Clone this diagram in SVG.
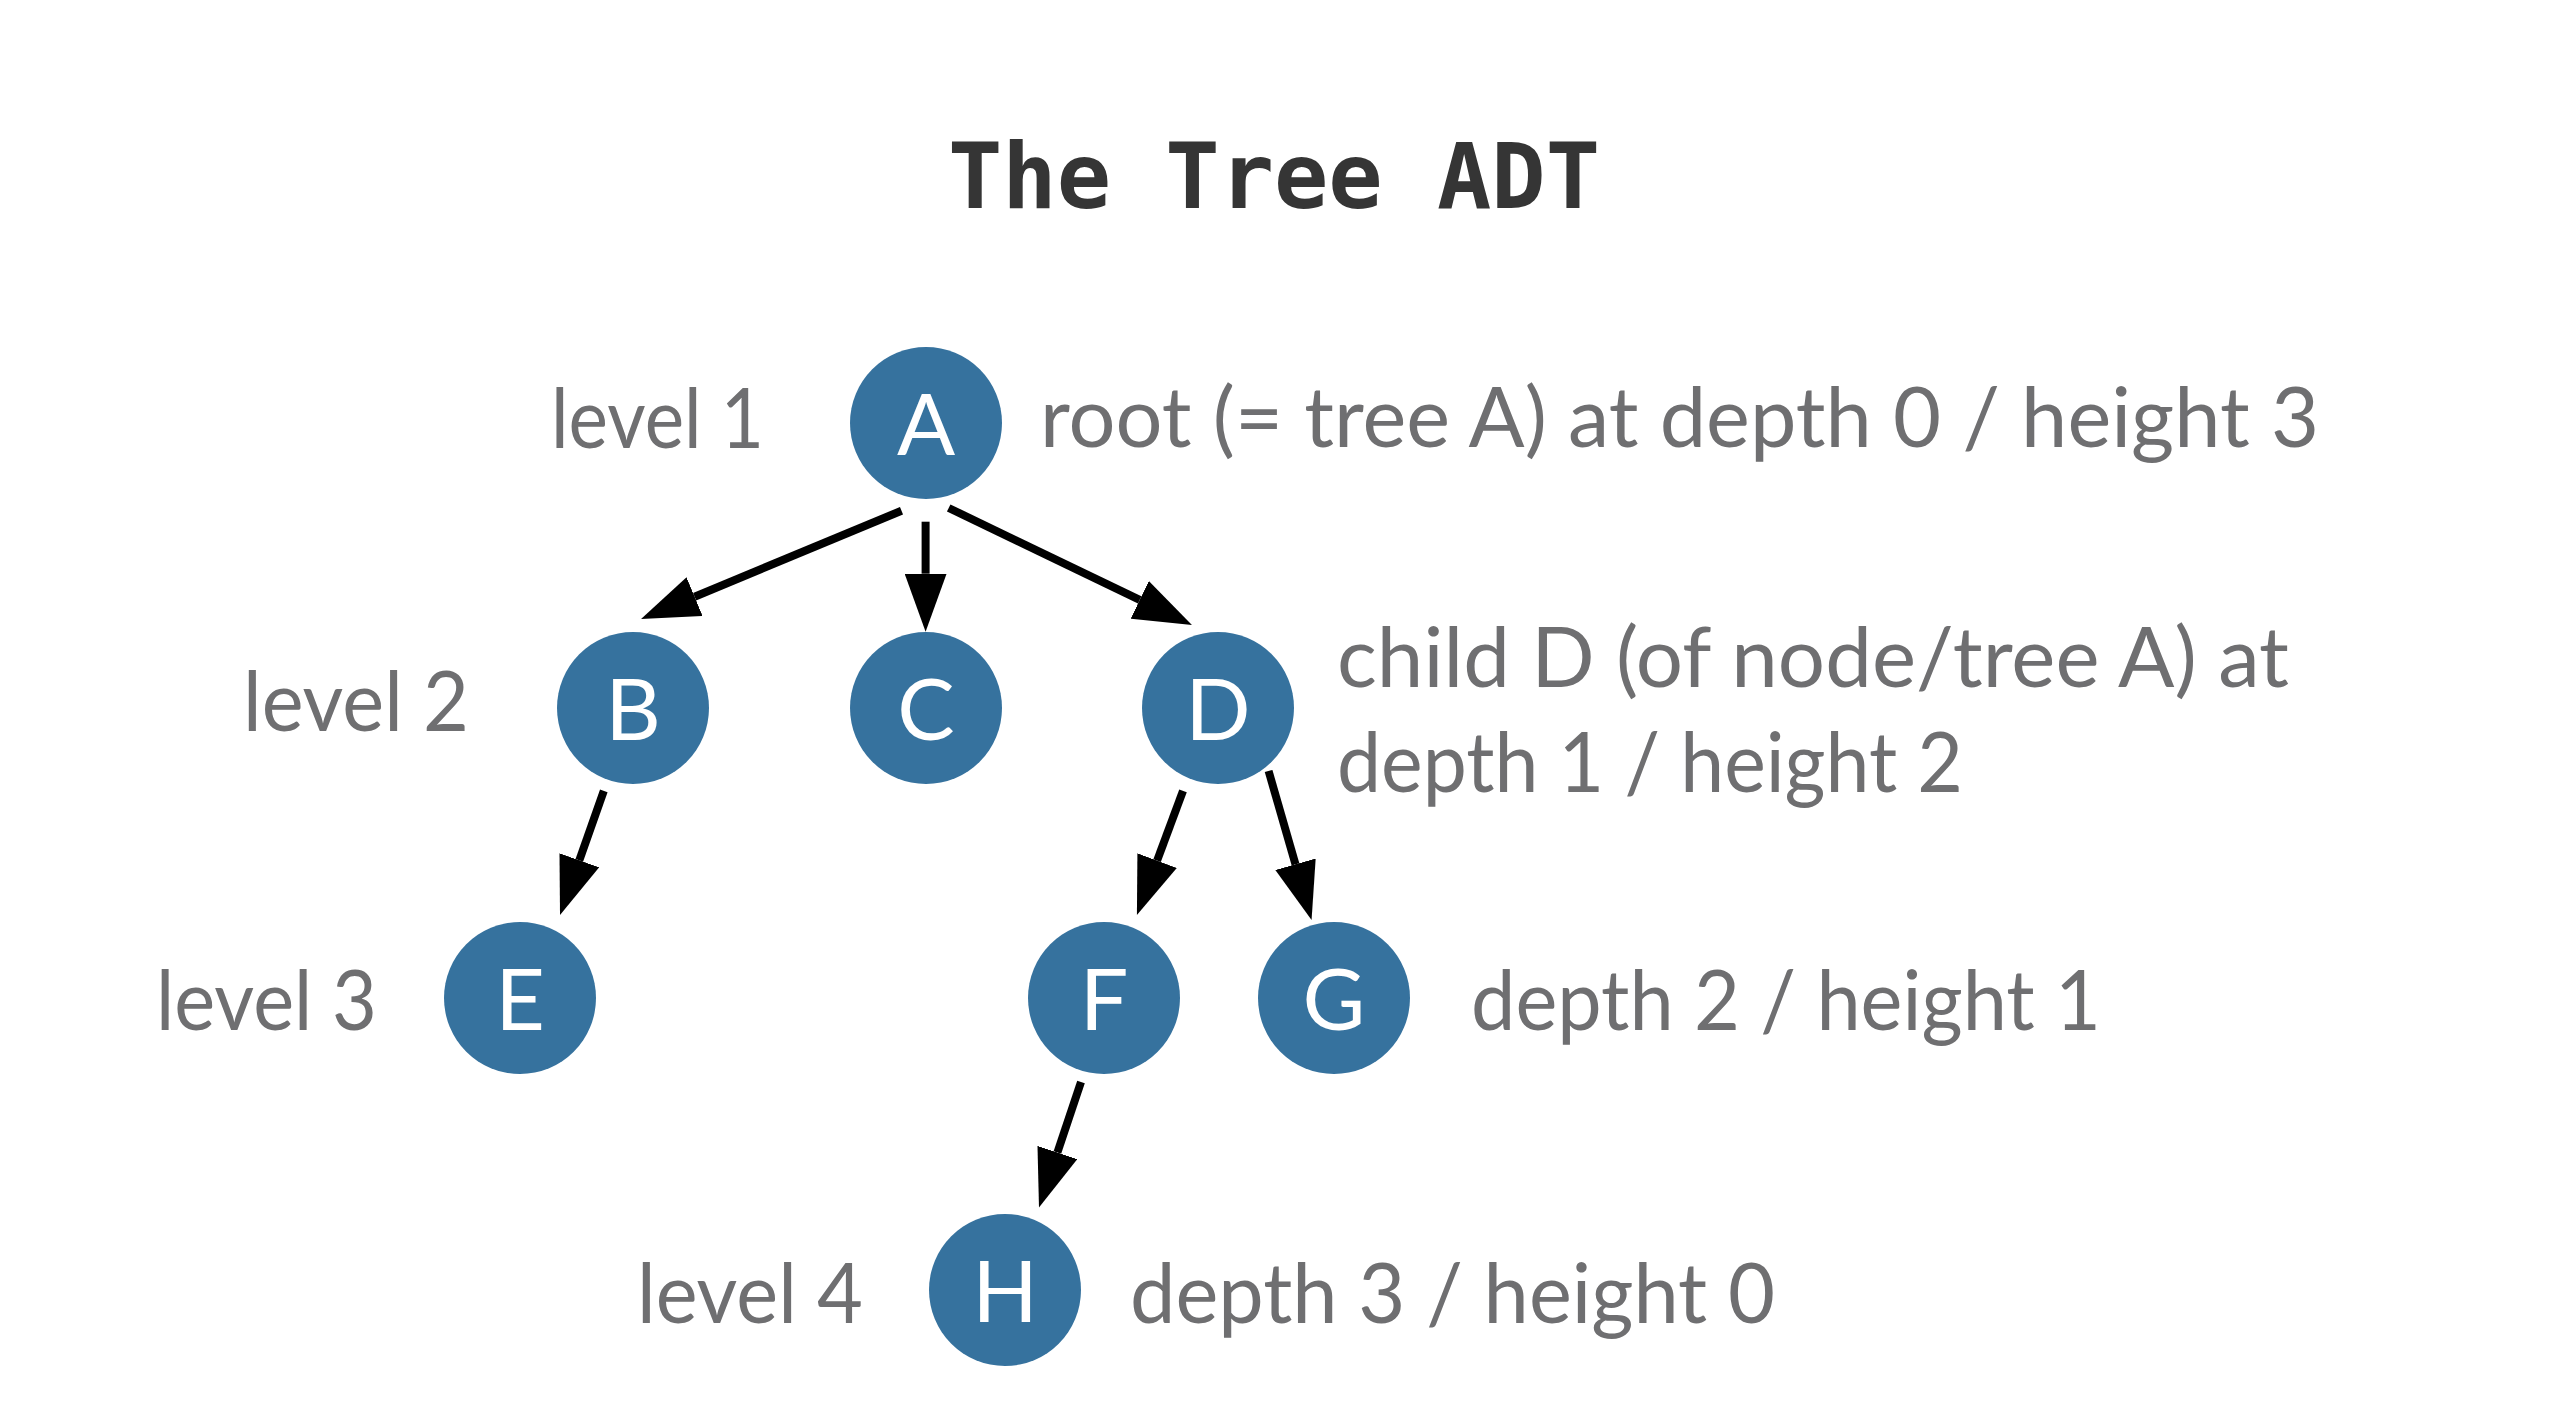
<svg xmlns="http://www.w3.org/2000/svg" width="2564" height="1406" viewBox="0 0 2564 1406">
<style>
.title{font-family:"DejaVu Sans Mono","Liberation Mono",monospace;font-weight:bold;font-size:91px;fill:#353535;}
.lbl{font-family:Lato,"Open Sans","Liberation Sans",sans-serif;font-size:84px;fill:#6f6f71;}
.node circle{fill:#36729e;}
.node text{font-family:Lato,"Open Sans","Liberation Sans",sans-serif;font-size:86px;fill:#ffffff;text-anchor:middle;}
.edge{stroke:#000;stroke-width:8;fill:none;}
</style>
<defs>
<marker id="ah" markerUnits="userSpaceOnUse" markerWidth="58" markerHeight="42" refX="0" refY="21" orient="auto">
<path d="M0,0 L58,21 L0,42 Z" fill="#000"/>
</marker>
</defs>
<rect width="2564" height="1406" fill="#ffffff"/>
<text class="title" x="1274" y="208" text-anchor="middle" textLength="652" lengthAdjust="spacingAndGlyphs">The Tree ADT</text>

<g id="connectors">
<line class="edge" x1="901.5" y1="510.7" x2="694.6" y2="596.7" marker-end="url(#ah)"/>
<line class="edge" x1="925.6" y1="521.7" x2="925.6" y2="573.7" marker-end="url(#ah)"/>
<line class="edge" x1="948.7" y1="508" x2="1139.7" y2="599.9" marker-end="url(#ah)"/>
<line class="edge" x1="603.8" y1="790.8" x2="579.3" y2="860.3" marker-end="url(#ah)"/>
<line class="edge" x1="1183" y1="790.8" x2="1157.1" y2="860.6" marker-end="url(#ah)"/>
<line class="edge" x1="1268.6" y1="771" x2="1295.5" y2="864.3" marker-end="url(#ah)"/>
<line class="edge" x1="1081" y1="1082" x2="1057.4" y2="1152.5" marker-end="url(#ah)"/>
</g>

<g id="node-A" class="node"><circle cx="926" cy="423" r="76"/><text x="926" y="455">A</text></g>
<g id="node-B" class="node"><circle cx="633" cy="708" r="76"/><text x="633" y="740">B</text></g>
<g id="node-C" class="node"><circle cx="926" cy="708" r="76"/><text x="926" y="740">C</text></g>
<g id="node-D" class="node"><circle cx="1218" cy="708" r="76"/><text x="1218" y="740">D</text></g>
<g id="node-E" class="node"><circle cx="520" cy="998" r="76"/><text x="520" y="1030">E</text></g>
<g id="node-F" class="node"><circle cx="1104" cy="998" r="76"/><text x="1104" y="1030">F</text></g>
<g id="node-G" class="node"><circle cx="1334" cy="998" r="76"/><text x="1334" y="1030">G</text></g>
<g id="node-H" class="node"><circle cx="1005" cy="1290" r="76"/><text x="1005" y="1322">H</text></g>

<g id="labels">
<text class="lbl" x="551" y="448" textLength="213" lengthAdjust="spacingAndGlyphs">level 1</text>
<text class="lbl" x="243" y="731" textLength="226" lengthAdjust="spacingAndGlyphs">level 2</text>
<text class="lbl" x="156" y="1030" textLength="221" lengthAdjust="spacingAndGlyphs">level 3</text>
<text class="lbl" x="637" y="1323" textLength="226" lengthAdjust="spacingAndGlyphs">level 4</text>
<text class="lbl" x="1040" y="447" textLength="1279" lengthAdjust="spacingAndGlyphs">root (= tree A) at depth 0 / height 3</text>
<text class="lbl" x="1337" y="687" textLength="952" lengthAdjust="spacingAndGlyphs">child D (of node/tree A) at</text>
<text class="lbl" x="1337" y="792" textLength="626" lengthAdjust="spacingAndGlyphs">depth 1 / height 2</text>
<text class="lbl" x="1471" y="1030" textLength="630" lengthAdjust="spacingAndGlyphs">depth 2 / height 1</text>
<text class="lbl" x="1130" y="1323" textLength="645" lengthAdjust="spacingAndGlyphs">depth 3 / height 0</text>
</g>
</svg>
